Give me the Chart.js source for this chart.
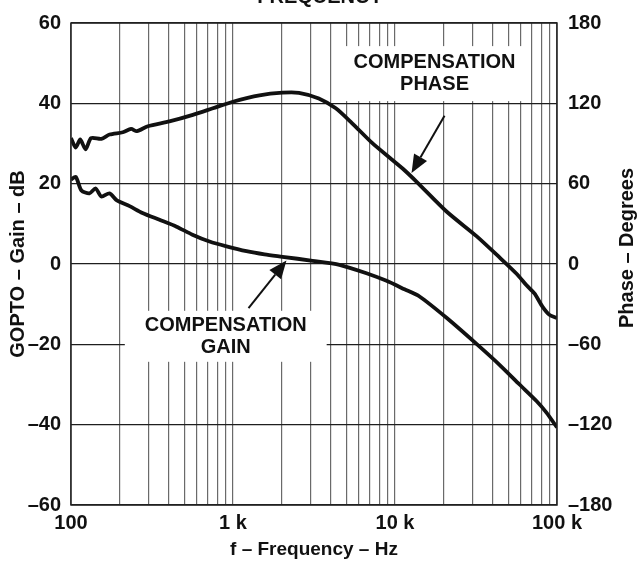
<!DOCTYPE html>
<html>
<head>
<meta charset="utf-8">
<script src="https://cdn.jsdelivr.net/npm/chart.js@4"></script>
<style>
  html, body { margin: 0; padding: 0; background: #fff; }
  #wrap { width: 641px; height: 567px; overflow: hidden; }
</style>
</head>
<body>
<div id="wrap"><canvas id="bode" width="641" height="567"></canvas></div>
<script>
// gain curve (Hz, dB)
const freqGain = [100, 107, 116, 130, 142, 154, 173, 191, 230, 276, 352, 448, 562, 716, 912,
  1211, 1565, 2021, 3097, 4540, 6668, 8870, 11450, 14170, 20800, 31850, 44170, 58700, 74700, 86100, 100000];
const gainDb = [21, 21.7, 18.3, 17.6, 18.8, 16.8, 17.6, 15.9, 14.4, 12.7, 11, 9.3, 7.3, 5.6, 4.4,
  3.2, 2.4, 1.8, 0.8, -0.2, -2.3, -4.2, -6.3, -8.1, -13.4, -19.9, -25.1, -30, -34.1, -37, -40.7];

// phase curve (Hz, degrees)
const freqPhase = [100, 107, 114, 123, 133, 154, 173, 209, 235, 255, 298, 405, 565, 751, 998,
  1457, 2021, 2553, 3387, 4311, 5419, 7194, 9553, 11450, 13700, 20800, 31850, 44170, 56300,
  64860, 72600, 81300, 89900, 100000];
const phaseDeg = [94, 87, 93, 85.7, 94, 93.5, 96.7, 98.4, 100.9, 99.2, 102.9, 106.5, 111.4, 116.3, 121.2,
  126, 128, 127.9, 123.7, 116.3, 105.3, 90.6, 78, 70, 61, 39.2, 20.8, 4.9, -7.3,
  -15.9, -22, -31.8, -38, -40.4];

// axis ticks
const xTickValues = [100, 1000, 10000, 100000];
const xTickLabels = ['100', '1 k', '10 k', '100 k'];
const gainTicks = [-60, -40, -20, 0, 20, 40, 60];
const phaseTicks = [-180, -120, -60, 0, 60, 120, 180];

const FONT = 'Liberation Sans, Arial, Helvetica, sans-serif';

// callouts: text block + arrow, placed in data units
const notes = [
  { lines: ['COMPENSATION', 'PHASE'], f: 17540, v: 50.2, axis: 'y', padX: 12, padY: 5,
    from: { f: 20220, v: 110.7 }, to: { f: 12650, v: 68 }, arrowAxis: 'y2' },
  { lines: ['COMPENSATION', 'GAIN'], f: 902, v: -15.2, axis: 'y', padX: 20, padY: 3,
    from: { f: 1247, v: -11 }, to: { f: 2138, v: 0.85 }, arrowAxis: 'y' }
];

function minusLabel(v) {
  return v < 0 ? '\u2013' + Math.abs(v) : String(v);
}

// white boxes behind callout text (they cut the grid), then text
const calloutPlugin = {
  id: 'callouts',
  beforeDatasetsDraw(chart) {
    const ctx = chart.ctx;
    const x = chart.scales.x;
    ctx.save();
    ctx.font = 'bold 20px ' + FONT;
    ctx.textAlign = 'center';
    ctx.textBaseline = 'middle';
    notes.forEach(n => {
      const cx = x.getPixelForValue(n.f);
      const cy = chart.scales[n.axis].getPixelForValue(n.v);
      const lh = 22.5;
      const w = Math.max(...n.lines.map(t => ctx.measureText(t).width));
      const top = cy - lh / 2 - n.padY;
      const h = lh * n.lines.length + 2 * n.padY;
      ctx.fillStyle = '#fff';
      ctx.fillRect(cx - w / 2 - n.padX, top, w + 2 * n.padX, h);
      ctx.fillStyle = '#111';
      n.lines.forEach((t, i) => ctx.fillText(t, cx, cy + i * lh));
    });
    ctx.restore();
  },
  afterDatasetsDraw(chart) {
    const ctx = chart.ctx;
    const x = chart.scales.x;
    const area = chart.chartArea;
    ctx.save();
    // arrows
    notes.forEach(n => {
      const ya = chart.scales[n.arrowAxis];
      const x0 = x.getPixelForValue(n.from.f), y0 = ya.getPixelForValue(n.from.v);
      const x1 = x.getPixelForValue(n.to.f), y1 = ya.getPixelForValue(n.to.v);
      const ang = Math.atan2(y1 - y0, x1 - x0);
      const hl = 18, hw = 7.5;
      const bx = x1 - hl * Math.cos(ang), by = y1 - hl * Math.sin(ang);
      ctx.strokeStyle = '#111';
      ctx.fillStyle = '#111';
      ctx.lineWidth = 2;
      ctx.beginPath();
      ctx.moveTo(x0, y0);
      ctx.lineTo(bx, by);
      ctx.stroke();
      ctx.beginPath();
      ctx.moveTo(x1, y1);
      ctx.lineTo(bx + hw * Math.sin(ang), by - hw * Math.cos(ang));
      ctx.lineTo(bx - hw * Math.sin(ang), by + hw * Math.cos(ang));
      ctx.closePath();
      ctx.fill();
    });
    // plot frame
    ctx.strokeStyle = '#222';
    ctx.lineWidth = 1.5;
    ctx.strokeRect(area.left, area.top, area.right - area.left, area.bottom - area.top);
    // clipped title line at the very top
    ctx.font = 'bold 20px ' + FONT;
    ctx.fillStyle = '#111';
    ctx.textAlign = 'center';
    ctx.textBaseline = 'alphabetic';
    ctx.fillText('FREQUENCY', 320, 3);
    // right axis title, reading bottom to top
    ctx.translate(627, 248);
    ctx.rotate(-Math.PI / 2);
    ctx.textBaseline = 'middle';
    ctx.fillText('Phase \u2013 Degrees', 0, 0);
    ctx.restore();
  }
};

new Chart(document.getElementById('bode'), {
  type: 'line',
  data: {
    datasets: [
      {
        label: 'Compensation gain',
        data: freqGain.map((f, i) => ({ x: f, y: gainDb[i] })),
        yAxisID: 'y',
        borderColor: '#111',
        borderWidth: 3.8,
        pointRadius: 0,
        tension: 0.25,
        fill: false
      },
      {
        label: 'Compensation phase',
        data: freqPhase.map((f, i) => ({ x: f, y: phaseDeg[i] })),
        yAxisID: 'y2',
        borderColor: '#111',
        borderWidth: 3.8,
        pointRadius: 0,
        tension: 0.25,
        fill: false
      }
    ]
  },
  options: {
    responsive: false,
    animation: false,
    layout: { padding: { top: 15, left: 0, right: 0, bottom: 0 } },
    plugins: {
      legend: { display: false },
      tooltip: { enabled: false }
    },
    scales: {
      x: {
        type: 'logarithmic',
        position: 'bottom',
        min: 100,
        max: 100000,
        afterBuildTicks(scale) {
          const t = [];
          for (let d = 100; d < 100000; d *= 10) {
            for (let m = 1; m < 10; m++) t.push({ value: m * d });
          }
          t.push({ value: 100000 });
          scale.ticks = t;
        },
        afterFit(scale) { scale.height = 62; },
        grid: { color: '#6a6a6a', lineWidth: 1.2, drawTicks: false },
        border: { display: false },
        ticks: {
          autoSkip: false,
          maxRotation: 0,
          padding: 6,
          color: '#111',
          font: { family: FONT, size: 20, weight: 'bold' },
          callback(v) {
            const i = xTickValues.indexOf(v);
            return i >= 0 ? xTickLabels[i] : '';
          }
        },
        title: {
          display: true,
          text: 'f \u2013 Frequency \u2013 Hz',
          color: '#111',
          font: { family: FONT, size: 19, weight: 'bold' },
          padding: { top: 0, bottom: 6 }
        }
      },
      y: {
        position: 'left',
        min: -60,
        max: 60,
        afterBuildTicks(scale) { scale.ticks = gainTicks.map(v => ({ value: v })); },
        afterFit(scale) { scale.width = 71; },
        grid: { color: '#1e1e1e', lineWidth: 1.2, drawTicks: false },
        border: { display: false },
        ticks: {
          padding: 10,
          color: '#111',
          font: { family: FONT, size: 20, weight: 'bold' },
          callback: minusLabel
        },
        title: {
          display: true,
          text: 'GOPTO \u2013 Gain \u2013 dB',
          color: '#111',
          font: { family: FONT, size: 20, weight: 'bold' },
          padding: { top: 6, bottom: 0 }
        }
      },
      y2: {
        position: 'right',
        min: -180,
        max: 180,
        afterBuildTicks(scale) { scale.ticks = phaseTicks.map(v => ({ value: v })); },
        afterFit(scale) { scale.width = 84; },
        grid: { display: false, drawTicks: false },
        border: { display: false },
        ticks: {
          padding: 11,
          color: '#111',
          font: { family: FONT, size: 20, weight: 'bold' },
          callback: minusLabel
        }
      }
    }
  },
  plugins: [calloutPlugin]
});
</script>
</body>
</html>
